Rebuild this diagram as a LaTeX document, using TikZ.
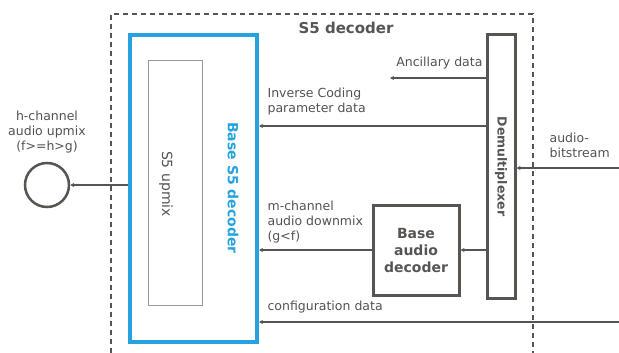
\documentclass[tikz,border=0pt]{standalone}
\usepackage{fontspec}
\setmainfont{DejaVu Sans}
\usetikzlibrary{calc}
\usetikzlibrary{positioning}
\usetikzlibrary{arrows.meta}

\definecolor{linegray}{RGB}{88,84,82}
\definecolor{textgray}{RGB}{82,82,82}
\definecolor{upmixgray}{RGB}{160,150,145}
\definecolor{baseblue}{RGB}{38,162,224}

\begin{document}
\begin{tikzpicture}[x = 1pt, y = -1pt, linegray, line width = 1.2pt,
    every node/.style = {text = textgray, font = \fontsize{12.5}{15}\selectfont},
    flow/.style = {-{Stealth[length = 4pt, width = 4pt]}, line width = 1.2pt},
    block/.style = {draw = linegray, line width = 3pt, inner sep = 0pt},
    lbl/.style = {align = left, inner sep = 0pt}]

    \useasboundingbox (0,0) rectangle (619,353);
    \clip (0,0) rectangle (619,353);

    % frames
    \node (S5dec) at (322,190) [draw, dashed, dash pattern = on 5pt off 4pt, line width = 1.6pt,
        minimum width = 422pt, minimum height = 352pt] {};
    \node (title) at (346,28) [font = \fontsize{15}{18}\selectfont\bfseries, text = linegray] {S5 decoder};

    \node (base) at (193.5,188.5) [draw = baseblue, line width = 4pt,
        minimum width = 127pt, minimum height = 307pt] {};
    \node (upmix) at (175,183) [draw = upmixgray, line width = 1pt,
        minimum width = 54pt, minimum height = 244pt] {};
    \node (upmixlbl) at (166,184) [rotate = -90, font = \fontsize{14}{16}\selectfont] {S5 upmix};
    \node (baselbl) at (233,188) [rotate = -90, text = baseblue, font = \fontsize{14}{16}\selectfont\bfseries] {Base S5 decoder};

    \node (demux) at (501,166.5) [block, minimum width = 28pt, minimum height = 263pt] {};
    \node (demuxlbl) at (demux.center) [rotate = -90, text = linegray, font = \fontsize{12.5}{15}\selectfont\bfseries] {Demultiplexer};

    \node (bad) at (416,250) [block, minimum width = 86pt, minimum height = 90pt,
        align = center, text = linegray, font = \fontsize{14}{17}\selectfont\bfseries] {Base\\audio\\decoder};

    \node (out) at (47,185) [circle, draw, line width = 2.5pt, minimum size = 44pt, inner sep = 0pt] {};
    \node (outlbl) [above = 8pt of out, align = center, inner sep = 0pt] {h-channel\\audio upmix\\(f>=h>g)};

    % levels
    \coordinate (anc)    at (390,78);
    \coordinate (inv)    at (0,126);
    \coordinate (bsin)   at (619,168);
    \coordinate (cfgin)  at (619,322);

    % connectors
    \draw[flow] (out -| base.west) -- (out.east);
    \draw[flow] (demux.west |- anc) -- (anc);
    \draw[flow] (demux.west |- inv) -- (base.east |- inv);
    \draw[flow] (bsin) -- (demux.east |- bsin);
    \draw[flow] (demux.west |- bad) -- (bad.east);
    \draw[flow] (bad.west) -- (base.east |- bad);
    \draw[flow] (cfgin) -- (base.east |- cfgin);

    % labels
    \node (anclbl) at (483,70) [anchor = south east, inner sep = 0pt] {Ancillary data};
    \node (invlbl) at (267,116) [lbl, anchor = south west] {Inverse Coding\\parameter data};
    \node (mchlbl) at (267,244) [lbl, anchor = south west] {m-channel\\audio downmix\\(g<f)};
    \node (cfglbl) at (267,314) [lbl, anchor = south west] {configuration data};
    \node (bslbl)  at (549,158) [lbl, anchor = south west] {audio-\\bitstream};

\end{tikzpicture}
\end{document}
